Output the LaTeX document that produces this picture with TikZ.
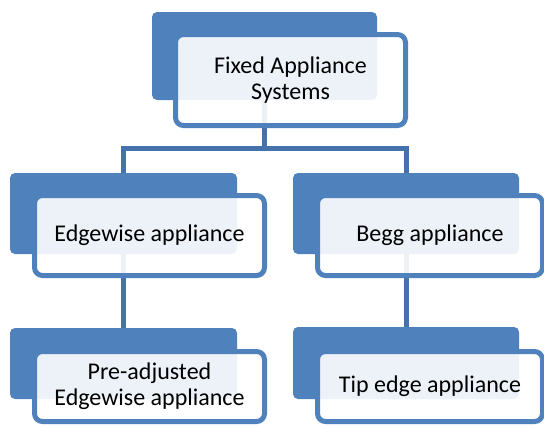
\documentclass[tikz,border=0pt]{standalone}
\usepackage{fontspec}
\setmainfont{Carlito}
\definecolor{boxblue}{RGB}{79,129,189}
\definecolor{linkblue}{RGB}{70,114,172}
\tikzset{
  backbox/.style={fill=boxblue, rounded corners=5pt, inner sep=0pt},
  frontbox/.style={draw=boxblue, line width=5pt, fill=white, fill opacity=0.9, text opacity=1,
    rounded corners=8pt, align=center, inner sep=0pt, font=\fontsize{24}{26}\selectfont},
  link/.style={draw=linkblue, line width=5pt}
}
\begin{document}
\begin{tikzpicture}[x=1pt,y=1pt,yscale=-1,xscale=1]
\useasboundingbox (0,0) rectangle (544,426);

% dark back boxes
\node [backbox, minimum width=225pt, minimum height=88pt] (fixedback) at (264.5,56) {};
\node [backbox, minimum width=227pt, minimum height=81pt] (edgeback) at (123.5,213.5) {};
\node [backbox, minimum width=226pt, minimum height=81pt] (beggback) at (406,213.5) {};
\node [backbox, minimum width=227pt, minimum height=71pt] (preback) at (123.5,363.5) {};
\node [backbox, minimum width=226pt, minimum height=72pt] (tipback) at (406,363) {};

% connectors
\coordinate (fork) at (264.5,148);
\draw [link] (fixedback.south) -- (fork) -| (edgeback.north);
\draw [link] (fork) -| (beggback.north);
\draw [link] (edgeback.south) -- (preback.north);
\draw [link] (beggback.south) -- (tipback.north);

% front boxes with text
\node [frontbox, minimum width=230pt, minimum height=91pt] (fixed) at (290.5,80) {Fixed Appliance\\Systems};
\node [frontbox, minimum width=230pt, minimum height=80pt] (edge) at (149.5,235.5) {Edgewise appliance};
\node [frontbox, minimum width=225pt, minimum height=80pt] (begg) at (430,235.5) {Begg appliance};
\node [frontbox, minimum width=230pt, minimum height=70pt] (pre) at (149.5,386.5) {Pre-adjusted\\Edgewise appliance};
\node [frontbox, minimum width=225pt, minimum height=70pt] (tip) at (430,386.5) {Tip edge appliance};

\end{tikzpicture}
\end{document}
